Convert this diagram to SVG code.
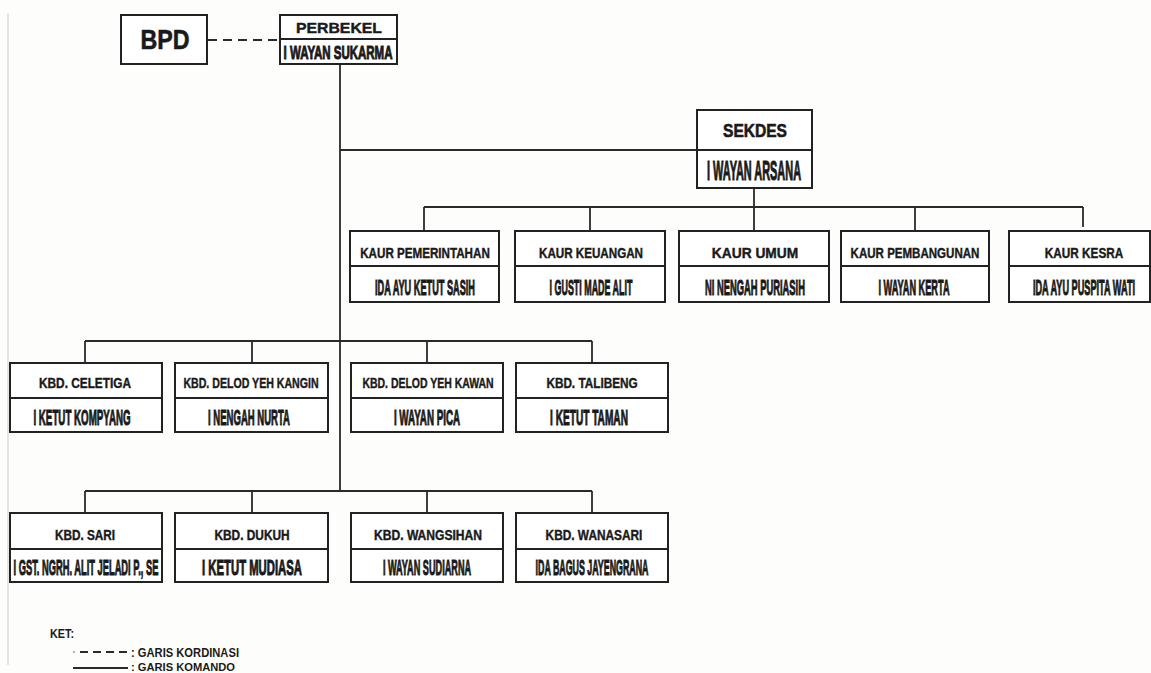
<svg xmlns="http://www.w3.org/2000/svg" width="1151" height="673" viewBox="0 0 1151 673">
<style>
.bx{fill:#fff;stroke:#222;stroke-width:2}
.dv{stroke:#222;stroke-width:2;fill:none}
.ln{stroke:#2a2a2a;stroke-width:1.8;fill:none}
.dash{stroke:#2a2a2a;stroke-width:2;stroke-dasharray:9 6;fill:none}
text{font-family:"Liberation Sans",Arial,sans-serif;font-weight:bold;fill:#1a1a1a;text-anchor:middle}
.h{font-size:14px;stroke:#1a1a1a;stroke-width:0.4}
.n{font-size:22px;stroke:#1a1a1a;stroke-width:1}
.lg{font-size:12px;text-anchor:start}
</style>
<rect x="0" y="0" width="1151" height="673" fill="#fdfdfb"/>
<line x1="8" y1="13" x2="8" y2="665" stroke="#ddd" stroke-width="1.5"/>
<g id="connectors">
<line class="dash" x1="208" y1="40" x2="280" y2="40"/>
<line class="ln" x1="340" y1="64" x2="340" y2="491"/>
<line class="ln" x1="340" y1="150" x2="697" y2="150"/>
<line class="ln" x1="754" y1="188" x2="754" y2="207"/>
<line class="ln" x1="424" y1="207" x2="1083" y2="207"/>
<line class="ln" x1="424" y1="207" x2="424" y2="231"/>
<line class="ln" x1="590" y1="207" x2="590" y2="231"/>
<line class="ln" x1="754" y1="207" x2="754" y2="231"/>
<line class="ln" x1="915" y1="207" x2="915" y2="231"/>
<line class="ln" x1="1083" y1="207" x2="1083" y2="227"/>
<line class="ln" x1="85" y1="341" x2="592" y2="341"/>
<line class="ln" x1="85" y1="341" x2="85" y2="363"/>
<line class="ln" x1="252" y1="341" x2="252" y2="363"/>
<line class="ln" x1="427" y1="341" x2="427" y2="363"/>
<line class="ln" x1="592" y1="341" x2="592" y2="363"/>
<line class="ln" x1="85" y1="491" x2="592" y2="491"/>
<line class="ln" x1="85" y1="491" x2="85" y2="513"/>
<line class="ln" x1="252" y1="491" x2="252" y2="513"/>
<line class="ln" x1="427" y1="491" x2="427" y2="513"/>
<line class="ln" x1="592" y1="491" x2="592" y2="513"/>
</g>
<g id="bpd">
<rect class="bx" x="121" y="15" width="86" height="49"/>
<text x="165" y="49" style="font-size:28px;stroke:#1a1a1a;stroke-width:0.6" textLength="49" lengthAdjust="spacingAndGlyphs">BPD</text>
</g>
<g id="perbekel">
<rect class="bx" x="280" y="15" width="117" height="49"/>
<line class="dv" x1="280" y1="39" x2="397" y2="39"/>
<text x="339" y="33" style="font-size:15px;stroke:#1a1a1a;stroke-width:0.4" textLength="86" lengthAdjust="spacingAndGlyphs">PERBEKEL</text>
<text class="n" transform="translate(338,59) scale(0.45,1)" style="font-size:19px" textLength="242" lengthAdjust="spacingAndGlyphs">I WAYAN SUKARMA</text>
</g>
<g id="sekdes">
<rect class="bx" x="697" y="110" width="115" height="78"/>
<line class="dv" x1="697" y1="150" x2="812" y2="150"/>
<text x="755" y="137" style="font-size:19px;stroke:#1a1a1a;stroke-width:0.6" textLength="64" lengthAdjust="spacingAndGlyphs">SEKDES</text>
<text class="n" transform="translate(754,180) scale(0.45,1)" style="font-size:27px;stroke-width:1.1" textLength="209" lengthAdjust="spacingAndGlyphs">I WAYAN ARSANA</text>
</g>
<g id="kaur-pemerintahan">
<rect class="bx" x="350" y="231" width="149" height="71"/>
<line class="dv" x1="350" y1="266" x2="499" y2="266"/>
<text class="h" transform="translate(425,258) scale(0.8,1)" textLength="162" lengthAdjust="spacingAndGlyphs">KAUR PEMERINTAHAN</text>
<text class="n" transform="translate(425,295) scale(0.45,1)" textLength="222" lengthAdjust="spacingAndGlyphs">IDA AYU KETUT SASIH</text>
</g>
<g id="kaur-keuangan">
<rect class="bx" x="515" y="231" width="150" height="71"/>
<line class="dv" x1="515" y1="266" x2="665" y2="266"/>
<text class="h" transform="translate(591,258) scale(0.8,1)" textLength="130" lengthAdjust="spacingAndGlyphs">KAUR KEUANGAN</text>
<text class="n" transform="translate(591,295) scale(0.45,1)" textLength="184" lengthAdjust="spacingAndGlyphs">I GUSTI MADE ALIT</text>
</g>
<g id="kaur-umum">
<rect class="bx" x="679" y="231" width="150" height="71"/>
<line class="dv" x1="679" y1="266" x2="829" y2="266"/>
<text class="h" transform="translate(755,258) scale(0.8,1)" textLength="108" lengthAdjust="spacingAndGlyphs">KAUR UMUM</text>
<text class="n" transform="translate(755,295) scale(0.45,1)" textLength="222" lengthAdjust="spacingAndGlyphs">NI NENGAH PURIASIH</text>
</g>
<g id="kaur-pembangunan">
<rect class="bx" x="841" y="231" width="148" height="71"/>
<line class="dv" x1="841" y1="266" x2="989" y2="266"/>
<text class="h" transform="translate(915,258) scale(0.8,1)" textLength="161" lengthAdjust="spacingAndGlyphs">KAUR PEMBANGUNAN</text>
<text class="n" transform="translate(914,295) scale(0.45,1)" textLength="158" lengthAdjust="spacingAndGlyphs">I WAYAN KERTA</text>
</g>
<g id="kaur-kesra">
<rect class="bx" x="1009" y="231" width="141" height="71"/>
<line class="dv" x1="1009" y1="266" x2="1150" y2="266"/>
<text class="h" transform="translate(1084,258) scale(0.8,1)" textLength="98" lengthAdjust="spacingAndGlyphs">KAUR KESRA</text>
<text class="n" transform="translate(1084,295) scale(0.45,1)" textLength="227" lengthAdjust="spacingAndGlyphs">IDA AYU PUSPITA WATI</text>
</g>
<g id="kbd-celetiga">
<rect class="bx" x="10" y="363" width="152" height="69"/>
<line class="dv" x1="10" y1="398" x2="162" y2="398"/>
<text class="h" transform="translate(85,388) scale(0.8,1)" textLength="115" lengthAdjust="spacingAndGlyphs">KBD. CELETIGA</text>
<text class="n" transform="translate(82,425) scale(0.45,1)" textLength="216" lengthAdjust="spacingAndGlyphs">I KETUT KOMPYANG</text>
</g>
<g id="kbd-delod-yeh-kangin">
<rect class="bx" x="175" y="363" width="153" height="69"/>
<line class="dv" x1="175" y1="398" x2="328" y2="398"/>
<text class="h" transform="translate(251,388) scale(0.8,1)" textLength="169" lengthAdjust="spacingAndGlyphs">KBD. DELOD YEH KANGIN</text>
<text class="n" transform="translate(249,425) scale(0.45,1)" textLength="182" lengthAdjust="spacingAndGlyphs">I NENGAH NURTA</text>
</g>
<g id="kbd-delod-yeh-kawan">
<rect class="bx" x="351" y="363" width="152" height="69"/>
<line class="dv" x1="351" y1="398" x2="503" y2="398"/>
<text class="h" transform="translate(428,388) scale(0.8,1)" textLength="164" lengthAdjust="spacingAndGlyphs">KBD. DELOD YEH KAWAN</text>
<text class="n" transform="translate(427,425) scale(0.45,1)" textLength="147" lengthAdjust="spacingAndGlyphs">I WAYAN PICA</text>
</g>
<g id="kbd-talibeng">
<rect class="bx" x="516" y="363" width="152" height="69"/>
<line class="dv" x1="516" y1="398" x2="668" y2="398"/>
<text class="h" transform="translate(592,388) scale(0.8,1)" textLength="114" lengthAdjust="spacingAndGlyphs">KBD. TALIBENG</text>
<text class="n" transform="translate(589,425) scale(0.45,1)" textLength="173" lengthAdjust="spacingAndGlyphs">I KETUT TAMAN</text>
</g>
<g id="kbd-sari">
<rect class="bx" x="10" y="513" width="152" height="69"/>
<line class="dv" x1="10" y1="549" x2="162" y2="549"/>
<text class="h" transform="translate(85,540) scale(0.8,1)" textLength="75" lengthAdjust="spacingAndGlyphs">KBD. SARI</text>
<text class="n" transform="translate(86,575) scale(0.45,1)" textLength="322" lengthAdjust="spacingAndGlyphs">I GST. NGRH. ALIT JELADI P., SE</text>
</g>
<g id="kbd-dukuh">
<rect class="bx" x="175" y="513" width="153" height="69"/>
<line class="dv" x1="175" y1="549" x2="328" y2="549"/>
<text class="h" transform="translate(252,540) scale(0.8,1)" textLength="94" lengthAdjust="spacingAndGlyphs">KBD. DUKUH</text>
<text class="n" transform="translate(252,575) scale(0.45,1)" textLength="222" lengthAdjust="spacingAndGlyphs">I KETUT MUDIASA</text>
</g>
<g id="kbd-wangsihan">
<rect class="bx" x="351" y="513" width="152" height="69"/>
<line class="dv" x1="351" y1="549" x2="503" y2="549"/>
<text class="h" transform="translate(428,540) scale(0.8,1)" textLength="135" lengthAdjust="spacingAndGlyphs">KBD. WANGSIHAN</text>
<text class="n" transform="translate(427,575) scale(0.45,1)" textLength="196" lengthAdjust="spacingAndGlyphs">I WAYAN SUDIARNA</text>
</g>
<g id="kbd-wanasari">
<rect class="bx" x="516" y="513" width="152" height="69"/>
<line class="dv" x1="516" y1="549" x2="668" y2="549"/>
<text class="h" transform="translate(594,540) scale(0.8,1)" textLength="121" lengthAdjust="spacingAndGlyphs">KBD. WANASARI</text>
<text class="n" transform="translate(592,575) scale(0.45,1)" textLength="251" lengthAdjust="spacingAndGlyphs">IDA BAGUS JAYENGRANA</text>
</g>
<g id="legend">
<text class="lg" x="50" y="638" textLength="24" lengthAdjust="spacingAndGlyphs">KET:</text>
<circle cx="74" cy="652" r="0.8" fill="#555"/>
<line class="dash" x1="80" y1="652" x2="128" y2="652" style="stroke-dasharray:8 5"/>
<text class="lg" x="131" y="657" textLength="108" lengthAdjust="spacingAndGlyphs">: GARIS KORDINASI</text>
<line class="ln" x1="73" y1="668" x2="128" y2="668"/>
<text class="lg" x="131" y="671" style="font-size:11px" textLength="104" lengthAdjust="spacingAndGlyphs">: GARIS KOMANDO</text>
</g>
</svg>
